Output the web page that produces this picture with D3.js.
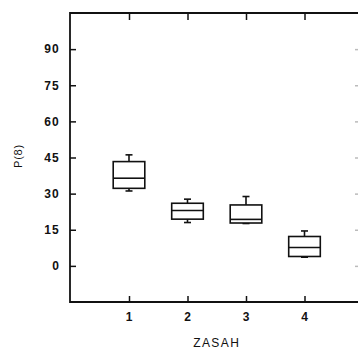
<!DOCTYPE html>
<html>
<head>
<meta charset="utf-8">
<script src="https://cdn.jsdelivr.net/npm/d3@7"></script>
<style>
  html, body { margin: 0; padding: 0; background: #fff; }
  svg text { font-family: "Liberation Sans", Arial, sans-serif; fill: #111; }
</style>
</head>
<body>
<svg id="chart" width="358" height="350"></svg>
<script>
const categories = [1, 2, 3, 4];
const whiskerHigh = [46.1, 27.7, 28.8, 14.5];
const q3 = [43.3, 26.0, 25.3, 12.2];
const medians = [36.4, 23.0, 19.3, 7.6];
const q1 = [32.2, 19.4, 17.8, 3.9];
const whiskerLow = [31.1, 18.0, 17.6, 3.6];
const yTicks = [0, 15, 30, 45, 60, 75, 90];
const xTicks = [1, 2, 3, 4];
const xLabel = "ZASAH";
const yLabel = "P(8)";

const svg = d3.select("#chart");
const mLeft = 70, mRight = 363, mTop = 13, mBottom = 302;

const x = d3.scaleLinear().domain([0, 5]).range([mLeft + 0.5, mRight]);
const y = d3.scaleLinear().domain([-15, 105]).range([mBottom, mTop]);

const ink = "#111";

// Frame lines
svg.append("line").attr("x1", mLeft).attr("x2", 358).attr("y1", mTop).attr("y2", mTop)
  .attr("stroke", ink).attr("stroke-width", 1.8);
svg.append("line").attr("x1", mLeft).attr("x2", 358).attr("y1", mBottom).attr("y2", mBottom)
  .attr("stroke", ink).attr("stroke-width", 1.8);
svg.append("line").attr("x1", mLeft).attr("x2", mLeft).attr("y1", mTop - 0.9).attr("y2", mBottom + 0.9)
  .attr("stroke", ink).attr("stroke-width", 1.8);

// Left axis (inward ticks)
const yAxis = d3.axisRight(y).tickValues(yTicks).tickSize(6).tickFormat("");
const ya = svg.append("g").attr("transform", `translate(${mLeft},0)`).call(yAxis);
ya.select(".domain").remove();
ya.selectAll(".tick line").attr("stroke", ink).attr("stroke-width", 1.5);
svg.selectAll(".ylab").data(yTicks).enter().append("text")
  .attr("class", "ylab")
  .attr("x", 60).attr("y", d => y(d)).attr("dy", "0.36em")
  .attr("text-anchor", "end").attr("font-size", 12).attr("font-weight", "bold")
  .attr("letter-spacing", "1.2px")
  .text(d => d);

// Right axis faint ticks
const yAxisR = d3.axisLeft(y).tickValues(yTicks).tickSize(5).tickFormat("");
const yr = svg.append("g").attr("transform", `translate(360,0)`).call(yAxisR);
yr.select(".domain").remove();
yr.selectAll(".tick line").attr("stroke", "#bbb").attr("stroke-width", 1.5);

// Bottom axis (inward ticks)
const xAxisB = d3.axisTop(x).tickValues(xTicks).tickSize(6).tickFormat("");
const xb = svg.append("g").attr("transform", `translate(0,${mBottom})`).call(xAxisB);
xb.select(".domain").remove();
xb.selectAll(".tick line").attr("stroke", ink).attr("stroke-width", 1.5);
svg.selectAll(".xlab").data(xTicks).enter().append("text")
  .attr("class", "xlab")
  .attr("x", d => x(d)).attr("y", 320.5)
  .attr("text-anchor", "middle").attr("font-size", 12).attr("font-weight", "bold")
  .text(d => d);

// Top axis (inward ticks)
const xAxisT = d3.axisBottom(x).tickValues(xTicks).tickSize(7).tickFormat("");
const xt = svg.append("g").attr("transform", `translate(0,${mTop})`).call(xAxisT);
xt.select(".domain").remove();
xt.selectAll(".tick line").attr("stroke", ink).attr("stroke-width", 1.5);

// Axis titles
svg.append("text").attr("x", x(2.5)).attr("y", 347)
  .attr("text-anchor", "middle").attr("font-size", 12).attr("letter-spacing", "1.4px")
  .text(xLabel);
svg.append("text").attr("transform", `translate(22,156) rotate(-90)`)
  .attr("text-anchor", "middle").attr("font-size", 11).attr("letter-spacing", "0.8px")
  .text(yLabel);

// Boxes
const data = categories.map((c, i) => ({
  c, hi: whiskerHigh[i], q3: q3[i], med: medians[i], q1: q1[i], lo: whiskerLow[i]
}));
const boxHalf = (x(1) - x(0)) * 0.27;
const capHalf = 3.5;
const g = svg.append("g").attr("stroke", ink).attr("fill", "none").attr("stroke-width", 1.6);
data.forEach(d => {
  const cx = x(d.c);
  g.append("line").attr("x1", cx).attr("x2", cx).attr("y1", y(d.hi)).attr("y2", y(d.q3));
  g.append("line").attr("x1", cx - capHalf).attr("x2", cx + capHalf).attr("y1", y(d.hi)).attr("y2", y(d.hi));
  g.append("line").attr("x1", cx).attr("x2", cx).attr("y1", y(d.q1)).attr("y2", y(d.lo));
  g.append("line").attr("x1", cx - capHalf).attr("x2", cx + capHalf).attr("y1", y(d.lo)).attr("y2", y(d.lo));
  g.append("rect").attr("x", cx - boxHalf).attr("width", 2 * boxHalf)
    .attr("y", y(d.q3)).attr("height", y(d.q1) - y(d.q3)).attr("fill", "#fff");
  g.append("line").attr("x1", cx - boxHalf).attr("x2", cx + boxHalf)
    .attr("y1", y(d.med)).attr("y2", y(d.med));
});
</script>
</body>
</html>
